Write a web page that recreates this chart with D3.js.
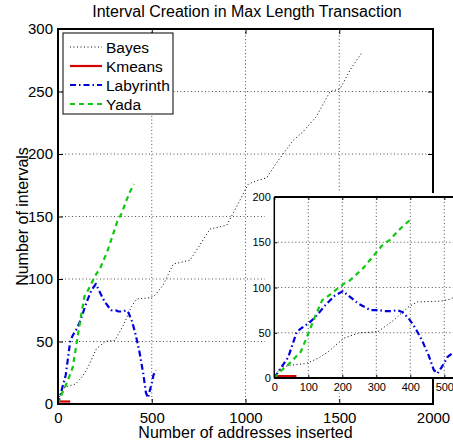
<!DOCTYPE html>
<html>
<head>
<meta charset="utf-8">
<script src="https://cdn.jsdelivr.net/npm/d3@7"></script>
<style>
  html, body { margin: 0; padding: 0; background: #fff; }
  svg { display: block; font-family: "Liberation Sans", Arial, Helvetica, sans-serif; }
</style>
</head>
<body>
<svg id="chart" width="453" height="445"></svg>
<script>
// Number of intervals created as addresses are inserted, per benchmark.
// Each series is a list of [addresses inserted, intervals].
const bayes = [
  [0, 0], [10, 7], [25, 12], [45, 14], [94, 16], [130, 22], [162, 30], [204, 44],
  [251, 50], [304, 51], [352, 64], [392, 78], [420, 84], [491, 85], [517, 87],
  [560, 95], [615, 112], [704, 115], [760, 128], [811, 140], [900, 143], [960, 160],
  [1015, 176], [1068, 179], [1113, 181], [1175, 195], [1255, 211], [1308, 218],
  [1378, 230], [1451, 250], [1504, 252], [1557, 267], [1620, 281]
];
const kmeans = [[0, 2], [65, 2]];
const labyrinth = [
  [0, 0], [12, 7], [41, 23], [66, 51], [90, 58], [100, 60], [120, 67], [149, 80],
  [178, 91], [202, 96], [218, 91], [248, 82], [283, 75], [308, 75], [322, 74],
  [347, 74], [362, 75], [376, 73], [395, 66], [415, 55], [434, 42], [454, 25],
  [469, 9], [480, 5], [499, 16], [509, 23], [522, 27]
];
const yada = [
  [0, 0], [20, 8], [39, 14], [60, 22], [78, 29], [90, 40], [102, 51], [121, 69],
  [141, 86], [160, 91], [180, 97], [204, 104], [223, 108], [263, 122], [303, 140],
  [316, 146], [341, 153], [365, 163], [385, 170], [404, 176]
];

const seriesNames = ["Bayes", "Kmeans", "Labyrinth", "Yada"];
const mainXTicks = [0, 500, 1000, 1500, 2000];
const mainYTicks = [0, 50, 100, 150, 200, 250, 300];
const insetXTicks = [0, 100, 200, 300, 400, 500];
const insetYTicks = [0, 50, 100, 150, 200];

const styles = {
  Bayes:     { color: "#000000", width: 1,   dash: "1,2.5" },
  Kmeans:    { color: "#d40000", width: 2.2, dash: null },
  Labyrinth: { color: "#0000dd", width: 2.2, dash: "6,3,1.5,3" },
  Yada:      { color: "#10c810", width: 2.2, dash: "5,4" }
};
const dataByName = { Bayes: bayes, Kmeans: kmeans, Labyrinth: labyrinth, Yada: yada };
const fmt = d3.format("d");

const svg = d3.select("#chart");

// ---------- main axes ----------
const x = d3.scaleLinear().domain([0, 2000]).range([58, 433]);
const y = d3.scaleLinear().domain([0, 300]).range([404, 29]);

svg.append("defs").append("clipPath").attr("id", "clipMain")
  .append("rect").attr("x", x(0)).attr("y", y(300))
  .attr("width", x(2000) - x(0)).attr("height", y(0) - y(300));

function drawGrid(g, xs, ys, xv, yv) {
  const [x0, x1] = xs.range();
  const [y0, y1] = ys.range();
  g.selectAll(".gx").data(xv).enter().append("line")
    .attr("x1", d => xs(d)).attr("x2", d => xs(d))
    .attr("y1", y0).attr("y2", y1)
    .attr("stroke", "#555").attr("stroke-width", 1).attr("stroke-dasharray", "1,2.5");
  g.selectAll(".gy").data(yv).enter().append("line")
    .attr("x1", x0).attr("x2", x1)
    .attr("y1", d => ys(d)).attr("y2", d => ys(d))
    .attr("stroke", "#555").attr("stroke-width", 1).attr("stroke-dasharray", "1,2.5");
}

function drawSeries(g, xs, ys, clipId) {
  const line = d3.line().x(d => xs(d[0])).y(d => ys(d[1]));
  const layer = g.append("g").attr("clip-path", `url(#${clipId})`);
  seriesNames.forEach(name => {
    const s = styles[name];
    layer.append("path")
      .datum(dataByName[name])
      .attr("d", line)
      .attr("fill", "none")
      .attr("stroke", s.color)
      .attr("stroke-width", s.width)
      .attr("stroke-dasharray", s.dash)
      .attr("stroke-linejoin", "round");
  });
}

const main = svg.append("g");
drawGrid(main, x, y, [500, 1000, 1500], [50, 100, 150, 200, 250]);
drawSeries(main, x, y, "clipMain");

// tick marks and labels (ticks point inward, mirrored on the opposite sides)
main.append("g").attr("transform", `translate(0,${y(0)})`)
  .call(d3.axisBottom(x).tickValues(mainXTicks).tickFormat(fmt).tickSizeInner(-5).tickSizeOuter(0).tickPadding(8))
  .call(g => g.select(".domain").remove())
  .call(g => g.selectAll("text").attr("font-size", 15).attr("fill", "#000").attr("font-family", null))
  .call(g => g.selectAll("line").attr("stroke", "#000"));
main.append("g").attr("transform", `translate(0,${y(300)})`)
  .call(d3.axisTop(x).tickValues(mainXTicks).tickSizeInner(-5).tickSizeOuter(0).tickFormat(""))
  .call(g => g.select(".domain").remove())
  .call(g => g.selectAll("line").attr("stroke", "#000"));
main.append("g").attr("transform", `translate(${x(0)},0)`)
  .call(d3.axisLeft(y).tickValues(mainYTicks).tickFormat(fmt).tickSizeInner(-5).tickSizeOuter(0).tickPadding(5))
  .call(g => g.select(".domain").remove())
  .call(g => g.selectAll("text").attr("font-size", 15).attr("fill", "#000").attr("font-family", null))
  .call(g => g.selectAll("line").attr("stroke", "#000"));
main.append("g").attr("transform", `translate(${x(2000)},0)`)
  .call(d3.axisRight(y).tickValues(mainYTicks).tickSizeInner(-5).tickSizeOuter(0).tickFormat(""))
  .call(g => g.select(".domain").remove())
  .call(g => g.selectAll("line").attr("stroke", "#000"));

main.append("rect")
  .attr("x", x(0)).attr("y", y(300))
  .attr("width", x(2000) - x(0)).attr("height", y(0) - y(300))
  .attr("fill", "none").attr("stroke", "#000").attr("stroke-width", 2);

// titles
svg.append("text").attr("x", 247).attr("y", 17).attr("text-anchor", "middle")
  .attr("font-size", 16).text("Interval Creation in Max Length Transaction");
svg.append("text").attr("x", (x(0) + x(2000)) / 2).attr("y", 438).attr("text-anchor", "middle")
  .attr("font-size", 16).text("Number of addresses inserted");
svg.append("text").attr("transform", `translate(28,${(y(0) + y(300)) / 2}) rotate(-90)`)
  .attr("text-anchor", "middle").attr("font-size", 16).text("Number of intervals");

// legend
const legend = svg.append("g").attr("transform", "translate(63,33)");
legend.append("rect").attr("width", 110).attr("height", 81)
  .attr("fill", "#fff").attr("stroke", "#000").attr("stroke-width", 1);
seriesNames.forEach((name, i) => {
  const s = styles[name];
  const cy = 14 + i * 19;
  legend.append("line").attr("x1", 7).attr("x2", 39).attr("y1", cy).attr("y2", cy)
    .attr("stroke", s.color).attr("stroke-width", s.width).attr("stroke-dasharray", s.dash);
  legend.append("text").attr("x", 43).attr("y", cy + 5.5).attr("font-size", 15.5).text(name);
});

// ---------- inset: first 550 addresses ----------
const xi = d3.scaleLinear().domain([0, 550]).range([274.3, 274.3 + 187]);
const yi = d3.scaleLinear().domain([0, 200]).range([378, 197]);

svg.select("defs").append("clipPath").attr("id", "clipInset")
  .append("rect").attr("x", xi(0)).attr("y", yi(200))
  .attr("width", xi(550) - xi(0)).attr("height", yi(0) - yi(200));

const inset = svg.append("g");
inset.append("rect").attr("x", 265).attr("y", 193).attr("width", 200).attr("height", 199).attr("fill", "#fff");
// the main frame's right edge shows below the inset's x axis
inset.append("line").attr("x1", x(2000)).attr("x2", x(2000)).attr("y1", yi(0)).attr("y2", y(0))
  .attr("stroke", "#000").attr("stroke-width", 2);

drawGrid(inset, xi, yi, [100, 200, 300, 400, 500], [50, 100, 150]);
drawSeries(inset, xi, yi, "clipInset");

inset.append("g").attr("transform", `translate(0,${yi(0)})`)
  .call(d3.axisBottom(xi).tickValues(insetXTicks).tickFormat(fmt).tickSizeInner(-3).tickSizeOuter(0).tickPadding(5))
  .call(g => g.select(".domain").remove())
  .call(g => g.selectAll("text").attr("font-size", 11).attr("fill", "#000").attr("font-family", null)
    .style("paint-order", "stroke").attr("stroke", "#fff").attr("stroke-width", 3))
  .call(g => g.selectAll("line").attr("stroke", "#000"));
inset.append("g").attr("transform", `translate(0,${yi(200)})`)
  .call(d3.axisTop(xi).tickValues(insetXTicks).tickSizeInner(-3).tickSizeOuter(0).tickFormat(""))
  .call(g => g.select(".domain").remove())
  .call(g => g.selectAll("line").attr("stroke", "#000"));
inset.append("g").attr("transform", `translate(${xi(0)},0)`)
  .call(d3.axisLeft(yi).tickValues(insetYTicks).tickFormat(fmt).tickSizeInner(-3).tickSizeOuter(0).tickPadding(3.5))
  .call(g => g.select(".domain").remove())
  .call(g => g.selectAll("text").attr("font-size", 11).attr("fill", "#000").attr("font-family", null))
  .call(g => g.selectAll("line").attr("stroke", "#000"));

inset.append("line").attr("x1", xi(0)).attr("x2", xi(550)).attr("y1", yi(0)).attr("y2", yi(0))
  .attr("stroke", "#000").attr("stroke-width", 1.8);
inset.append("line").attr("x1", xi(0)).attr("x2", xi(550)).attr("y1", yi(200)).attr("y2", yi(200))
  .attr("stroke", "#000").attr("stroke-width", 2);
inset.append("line").attr("x1", xi(0)).attr("x2", xi(0)).attr("y1", yi(0)).attr("y2", yi(200))
  .attr("stroke", "#000").attr("stroke-width", 1.5);
</script>
</body>
</html>
